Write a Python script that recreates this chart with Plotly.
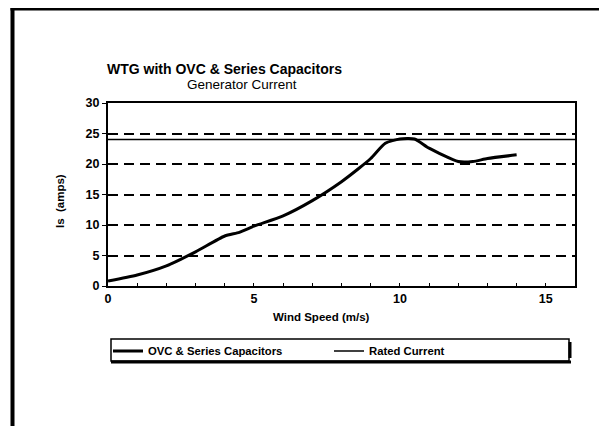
import plotly.graph_objects as go

# data
wind_speed = [0, 1, 2, 3, 4, 4.5, 5, 6, 7, 8, 8.6, 9, 9.5, 10, 10.5, 11, 12, 12.5, 13, 14]
gen_current = [0.8, 1.8, 3.3, 5.6, 8.2, 8.8, 9.8, 11.5, 14.0, 17.1, 19.3, 20.9, 23.4, 24.1, 24.1, 22.6, 20.4, 20.4, 20.9, 21.5]
rated_x = [0, 16]
rated_current = [24, 24]
x_ticks = [0, 5, 10, 15]
y_ticks = [0, 5, 10, 15, 20, 25, 30]

# the page body has an 8px margin, so work in screenshot pixels and shift
OFF = 8
W, H = 607 - OFF, 426 - OFF
L, R, T, B = 108 - OFF, 575 - OFF, 103 - OFF, 286 - OFF
FONT = "Liberation Sans, Arial, sans-serif"


def px(x):
    return (x - OFF - L) / (R - L)


def py(y):
    return (B - (y - OFF)) / (B - T)


fig = go.Figure()
fig.add_trace(go.Scatter(x=wind_speed, y=gen_current, mode="lines",
                         name="OVC & Series Capacitors",
                         line=dict(color="black", width=3, shape="spline", smoothing=0.6)))
fig.add_trace(go.Scatter(x=rated_x, y=rated_current, mode="lines",
                         name="Rated Current",
                         line=dict(color="black", width=1.5)))

fig.update_layout(
    width=W, height=H,
    margin=dict(l=L, r=W - R, t=T, b=H - B),
    paper_bgcolor="white", plot_bgcolor="white",
    font=dict(family=FONT, color="black"),
    showlegend=True,
    legend=dict(orientation="h", x=px(108), y=py(351), xanchor="left", yanchor="middle",
                bgcolor="rgba(0,0,0,0)", borderwidth=0, entrywidth=176,
                font=dict(size=11.3, family=FONT, weight="bold")),
    xaxis=dict(range=[0, 16], tickvals=x_ticks, showgrid=False, zeroline=False,
               showline=True, linecolor="black", linewidth=2, mirror=True,
               ticks="inside", ticklen=3, tickcolor="black",
               minor=dict(dtick=1, ticks="inside", ticklen=3, tickcolor="black"),
               tickfont=dict(size=12.5, family=FONT, weight="bold")),
    yaxis=dict(range=[0, 30], tickvals=y_ticks, zeroline=False,
               showgrid=True, gridcolor="black", gridwidth=2, griddash="10px,6px",
               showline=True, linecolor="black", linewidth=2, mirror=True,
               ticks="outside", ticklen=4, tickcolor="black",
               tickfont=dict(size=12.5, family=FONT, weight="bold")),
    annotations=[
        dict(text="<b>WTG with OVC & Series Capacitors</b>", x=px(106), y=py(69),
             xref="paper", yref="paper", xanchor="left", yanchor="middle",
             showarrow=False, font=dict(size=14, family=FONT), borderpad=0),
        dict(text="Generator Current", x=px(242), y=py(85),
             xref="paper", yref="paper", xanchor="center", yanchor="middle",
             showarrow=False, font=dict(size=13.5, family=FONT), borderpad=0),
        dict(text="<b>Is  (amps)</b>", x=px(60), y=py(201), textangle=-90,
             xref="paper", yref="paper", xanchor="center", yanchor="middle",
             showarrow=False, font=dict(size=11.5, family=FONT)),
        dict(text="<b>Wind Speed (m/s)</b>", x=px(321), y=py(317),
             xref="paper", yref="paper", xanchor="center", yanchor="middle",
             showarrow=False, font=dict(size=11.5, family=FONT)),
    ],
    shapes=[
        # outer frame (left and top edges)
        dict(type="line", xref="paper", yref="paper", x0=px(12.5), x1=px(12.5), y0=py(8), y1=py(440),
             line=dict(color="black", width=4)),
        dict(type="line", xref="paper", yref="paper", x0=px(10.5), x1=px(620), y0=py(9), y1=py(9),
             line=dict(color="black", width=3)),
        # legend box with shadow
        dict(type="rect", xref="paper", yref="paper", x0=px(111), x1=px(569), y0=py(339), y1=py(361),
             line=dict(color="black", width=1.5)),
        dict(type="line", xref="paper", yref="paper", x0=px(111), x1=px(571), y0=py(362), y1=py(362),
             line=dict(color="black", width=3)),
        dict(type="line", xref="paper", yref="paper", x0=px(570), x1=px(570), y0=py(342), y1=py(358),
             line=dict(color="black", width=3)),
    ],
)

fig.write_html("out.html")
